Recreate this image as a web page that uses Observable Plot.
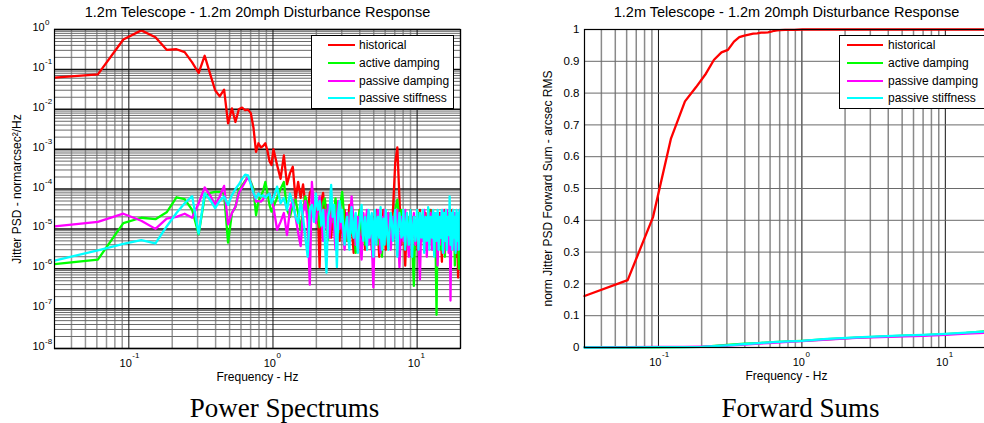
<!DOCTYPE html>
<html><head><meta charset="utf-8">
<script src="https://cdn.jsdelivr.net/npm/d3@7"></script>
<script src="https://cdn.jsdelivr.net/npm/@observablehq/plot@0.6"></script>
<style>
html,body{margin:0;padding:0;background:#fff;}
body{width:984px;height:423px;overflow:hidden;position:relative;font-family:"Liberation Sans",Arial,sans-serif;}
.panel{position:absolute;top:0;}
.panel svg{max-width:none !important;}
.legend{position:absolute;background:#fff;border:1px solid #000;box-sizing:border-box;font-size:12px;color:#000;}
.legend .ln{position:absolute;height:2px;}
.legend .tx{position:absolute;height:18px;line-height:18px;white-space:nowrap;}
</style>
</head><body>
<script>
// ---------------- data ----------------
const titleText = "1.2m Telescope - 1.2m 20mph Disturbance Response";
const seriesNames = ["historical", "active damping", "passive damping", "passive stiffness"];
const seriesColors = ["#ff0000", "#00ff00", "#ff00ff", "#00ffff"];

// PSD frequency samples (Hz)
const psdFreq = [
  0.0305,0.061,0.0916,0.122,0.153,0.183,0.214,0.244,0.275,0.305,
  0.336,0.366,0.397,0.427,0.458,0.488,0.519,0.549,0.580,0.610,
  0.641,0.671,0.702,0.732,0.763,0.793,0.824,0.854,0.885,0.916,
  0.946,0.977,1.007,
  1.068,1.129,1.190,1.251,1.312,1.373,1.434,1.495,1.556,1.617,
  1.678,1.740,1.801,1.862,1.923,1.984,2.045,2.106,2.167,2.228,
  2.289,2.350,2.411,2.472,2.533,2.594,2.655,2.716,2.777,2.838,
  2.899,2.960,
  3.02,3.14,3.27,3.39,3.51,3.63,3.75,3.88,4.00,4.12,
  4.24,4.36,4.49,4.61,4.73,4.85,4.97,5.10,5.22,5.34,
  5.46,5.58,5.71,5.83,5.95,
  6.07,6.32,6.56,6.80,7.05,7.29,7.54,7.78,8.02,8.27,
  8.51,8.76,9.00,9.24,9.49,9.73,9.98,10.22,10.46,10.71,
  10.95,11.20,11.44,11.68,11.93,12.17,12.42,12.66,12.90,13.15,
  13.39,13.64,13.88,14.12,14.37,14.61,14.86,15.10,15.34,15.59,
  15.83,16.08,16.32,16.56,16.81,17.05,17.30,17.54,17.78,18.03,
  18.27,18.52,18.76,19.00,19.25,19.49,19.74,19.98
];

const psdHistorical = [
  6.2e-2,7.5e-2,5.6e-1,9.5e-1,6.4e-1,3.1e-1,3.2e-1,2.7e-1,1.5e-1,8.1e-2,
  2.2e-1,7.8e-2,3.0e-2,2.1e-2,3.1e-2,4.4e-3,1.05e-2,4.8e-3,1.0e-2,1.1e-2,
  9.5e-3,9.8e-3,8e-3,3.5e-3,8.5e-4,1.4e-3,1.1e-3,1.2e-3,1.4e-3,9e-4,
  5e-4,4e-4,1.0e-3,
  4e-4,1.8e-4,7e-4,1.3e-4,2.5e-4,3.6e-4,5.5e-5,1.5e-4,6e-5,1.3e-4,
  4e-5,2.5e-5,8e-5,1e-4,3e-5,1.7e-5,4e-5,1.1e-6,5e-5,8e-5,
  2e-5,4e-5,1.2e-5,3e-5,6e-6,2.5e-5,1e-5,3.5e-5,8e-6,2e-5,
  5e-6,1.5e-5,
  8e-6,3e-5,5e-6,4e-5,1.2e-5,2.5e-6,2e-5,6e-6,3e-5,4e-6,
  1.5e-5,3e-6,2.5e-5,7e-6,1.8e-5,3e-6,2e-5,5e-6,3e-5,9e-6,
  2e-6,2e-5,6e-6,3e-5,1e-5,
  3e-6,2.5e-5,8e-6,3e-5,4.5e-4,1.1e-3,6e-5,4e-6,2.5e-5,1.2e-6,
  2e-5,5e-6,3e-5,8e-6,2e-5,3e-6,1.5e-5,5e-6,3e-5,7e-6,
  2e-5,3e-6,2.5e-5,6e-6,1.8e-5,4e-6,3e-5,9e-6,2e-5,3e-6,
  1.5e-5,6e-7,2e-5,5e-6,2.5e-5,8e-6,1.5e-6,2e-5,6e-6,3e-5,
  4e-6,2e-5,7e-6,2.5e-5,3e-6,1.5e-5,6e-6,3e-5,1e-5,4e-6,
  2e-5,2e-6,1.5e-5,5e-6,6e-7,1.5e-5,4e-6,2e-5
];

const psdActive = [
  1.3e-6,1.7e-6,1.4e-5,1.9e-5,1.75e-5,2.6e-5,6.2e-5,5.6e-5,3e-5,7.3e-6,
  6.5e-5,8e-5,8.5e-5,8.5e-5,7.5e-5,4.5e-6,2.5e-5,3.5e-5,9.5e-5,1.2e-4,
  1.6e-4,2e-4,1.5e-4,1e-4,2.2e-5,5e-5,6.5e-5,9e-5,1.5e-4,8e-5,
  4e-5,2.7e-5,3.6e-5,
  6e-5,1e-4,1.5e-4,3e-5,2e-5,4e-5,5.4e-5,2.5e-5,9.5e-6,3e-5,
  6.5e-5,4e-5,1.5e-5,4e-5,3e-5,1.5e-5,2.5e-5,1.1e-5,3e-5,4.5e-5,
  5.8e-5,2e-5,5.2e-6,2e-5,4e-5,1.5e-5,3e-5,5.8e-5,2e-5,8e-6,
  3e-5,5e-5,
  8.5e-5,1.5e-5,5e-6,2.5e-5,8e-6,2e-5,2.5e-6,1.5e-5,3e-5,7e-6,
  2e-5,4e-6,1.5e-5,2.5e-5,6e-6,1.8e-5,3e-6,2e-5,8e-6,2.5e-5,
  4e-6,1.5e-5,2e-6,2e-5,7e-6,
  2e-5,5e-6,2.5e-5,1e-5,3e-5,5.4e-5,1.5e-5,3e-5,6e-6,2e-5,
  4e-6,1.5e-5,2.5e-5,5e-6,3.7e-7,1.5e-5,8e-6,2.5e-5,4e-6,2e-5,
  7e-6,1.5e-5,3e-6,2e-5,1e-5,3e-5,5e-6,1.8e-5,3e-6,2e-5,
  8e-6,7e-8,2e-5,5e-6,1.5e-5,3e-6,2.5e-5,8e-6,1.5e-5,2e-6,
  2e-5,6e-6,2.5e-5,1e-5,3e-6,2e-5,7e-6,1.5e-5,4e-6,2.5e-5,
  1.2e-6,1.5e-5,5e-6,2e-5,8e-6,1e-6,2e-5,6e-6
];

const psdPassiveDamping = [
  1.15e-5,1.5e-5,2.4e-5,1.6e-5,1.0e-5,1.8e-5,2.0e-5,2.4e-5,1.9e-5,4.4e-5,
  1.1e-4,7e-5,4e-5,6.5e-5,1.2e-4,1.3e-5,2.5e-5,3.6e-5,8e-5,1.1e-4,
  1.5e-4,2e-4,1.4e-4,8e-5,4.8e-5,5e-5,4.8e-5,5.5e-5,6.5e-5,7e-5,
  7.7e-5,5e-5,3.6e-5,
  9.5e-6,1.5e-5,2.5e-5,7e-6,3e-5,5.4e-5,2e-5,8e-6,3.7e-6,2.7e-5,
  5e-5,1.5e-5,4e-7,1.5e-4,3e-5,1.4e-5,3e-5,6.5e-5,2e-5,5e-6,
  3e-5,1e-5,4e-5,6e-6,2e-5,4e-5,1e-5,3e-6,2e-5,5e-5,
  1e-5,2.5e-5,
  1.2e-5,3e-6,2.5e-5,8e-6,6.5e-5,1.5e-5,4e-6,2e-5,6e-6,1.7e-6,
  2.5e-5,9e-6,3e-5,4e-6,1.5e-5,5e-6,3.4e-7,2e-5,6e-6,3e-5,
  1e-5,2.5e-6,2e-5,5e-6,3e-5,
  8e-6,2.5e-5,3e-6,2e-5,6e-6,3e-5,1.1e-6,2e-5,5e-6,3e-5,
  8e-6,2e-6,2e-5,6e-6,2.5e-5,4e-6,1.8e-5,7e-6,5.4e-7,2e-5,
  5e-6,3e-5,8e-6,2e-6,2e-5,6e-6,2.5e-5,3e-6,1.5e-5,2.5e-5,
  5e-6,2e-5,1.2e-6,1.5e-5,4e-6,2.5e-5,7e-6,3e-5,2.5e-6,1.5e-5,
  6e-6,3e-5,1e-5,2.5e-6,2e-5,1.6e-7,2.5e-5,6e-6,2e-5,3e-6,
  2.5e-5,8e-6,2e-5,3e-6,1.5e-5,5e-6,3e-5,1e-5
];

const psdPassiveStiffness = [
  1.6e-6,2.9e-6,4.2e-6,5.2e-6,4.3e-6,1.15e-5,2.5e-5,4.4e-5,6.6e-5,7.6e-6,
  7.7e-5,5.4e-5,3.3e-5,5e-5,6.5e-5,4e-5,7e-5,1e-4,1.3e-4,1.8e-4,
  2.3e-4,2.2e-4,1.3e-4,8e-5,5.8e-5,7.7e-5,6.5e-5,7e-5,6e-5,7e-5,
  7.7e-5,4.4e-5,6e-5,
  1.15e-4,4.4e-5,6e-5,3e-5,7.7e-5,4.4e-5,2e-5,1.4e-5,5e-5,2e-5,
  6e-6,2e-6,3e-5,4e-5,1.5e-5,7.7e-5,3e-5,5e-5,1.2e-5,3e-5,
  5e-6,8e-7,2e-5,3e-5,1.26e-4,2e-5,4e-5,1e-5,1.1e-6,2.5e-5,
  5e-5,1.5e-5,
  3e-5,4e-6,2e-5,3e-6,3.5e-5,6e-6,2.5e-5,2.5e-6,1.5e-5,4e-5,
  5e-6,2e-5,3e-6,3e-5,8e-6,2.5e-5,2e-6,3e-5,4e-6,2e-5,
  6e-6,3.5e-5,3e-6,1.8e-5,4e-6,
  3e-5,3e-6,2.5e-5,5e-6,3e-5,2e-6,2.5e-5,6e-6,3e-5,3e-6,
  2.5e-5,4e-6,3e-5,2e-6,2e-5,5e-6,3e-5,3e-6,2.5e-5,6e-6,
  3e-5,2.5e-6,2e-5,5e-6,3.5e-5,3e-6,2e-5,6e-6,3e-5,2e-6,
  2.5e-5,5e-6,3e-5,3e-6,2e-5,6e-6,3e-5,2.5e-6,2.5e-5,5e-6,
  3e-5,3e-6,2e-5,7e-6,6.5e-5,4e-6,2.5e-5,3e-6,3e-5,6e-6,
  2e-5,2.5e-6,3e-5,5e-6,2.5e-5,3e-6,3e-5,8e-6
];

// extra (in-between) samples of the dense passive-stiffness band, 3-20 Hz
const psdStiffnessExtraFreq = [
  3.08,3.20,3.33,3.45,3.57,3.69,3.81,3.94,4.06,4.18,
  4.30,4.42,4.55,4.67,4.79,4.91,5.03,5.16,5.28,5.40,
  5.52,5.64,5.77,5.89,
  6.01,6.19,6.44,6.68,6.92,7.17,7.41,7.66,7.90,8.14,
  8.39,8.63,8.88,9.12,9.36,9.61,9.85,10.10,10.34,10.58,
  10.83,11.07,11.32,11.56,11.80,12.05,12.29,12.54,12.78,13.02,
  13.27,13.51,13.76,14.00,14.24,14.49,14.73,14.98,15.22,15.46,
  15.71,15.95,16.20,16.44,16.68,16.93,17.17,17.42,17.66,17.90,
  18.15,18.39,18.64,18.88,19.12,19.37,19.61,19.86
];
const psdStiffnessExtra = [
  1e-5,1.2e-5,6e-6,1.5e-5,8e-6,1.8e-5,5e-6,9e-6,2.5e-5,1e-5,
  1.2e-5,7e-6,1.5e-5,6e-6,2e-5,5e-6,1.2e-5,8e-6,1.5e-5,9e-6,
  2e-5,5e-6,1e-5,1.4e-5,
  1.2e-5,8e-6,1e-5,1.5e-5,9e-6,6e-6,1.2e-5,1.5e-5,7e-6,1e-5,
  1.4e-5,8e-6,1.2e-5,6e-6,1e-5,1.5e-5,9e-6,1.2e-5,7e-6,1.5e-5,
  1e-5,8e-6,1.3e-5,1.6e-5,7e-6,1e-5,1.4e-5,9e-6,1.2e-5,6e-6,
  1.5e-5,1e-5,8e-6,1.3e-5,1.1e-5,7e-6,1.5e-5,9e-6,1.2e-5,8e-6,
  1.4e-5,1e-5,1.8e-5,1.5e-5,7e-6,1.2e-5,9e-6,1.4e-5,6e-6,1e-5,
  1.5e-5,8e-6,1.2e-5,1e-5,7e-6,1.3e-5,9e-6,1.5e-5
];

// Forward sums
const sumFreqHistorical = [0.0305,0.061,0.0916,0.122,0.153,0.183,0.214,0.244,0.275,0.305,
  0.336,0.366,0.397,0.427,0.458,0.488,0.519,0.549,0.580,0.610,0.641,0.671,0.702,0.763,
  0.824,0.885,1.007,2,5,10,20];
const sumHistorical = [0.162,0.212,0.41,0.656,0.774,0.819,0.861,0.905,0.928,0.936,
  0.962,0.976,0.981,0.984,0.987,0.988,0.990,0.990,0.991,0.993,0.996,0.997,0.998,0.999,
  0.999,0.999,1,1,1,1,1];
const sumFreq = [0.0305,0.061,0.1,0.15,0.2,0.3,0.4,0.5,0.63,0.8,1.0,1.5,2.4,3.5,5.2,7,10,14,20];
const sumActive = [0,0,0.0005,0.001,0.002,0.008,0.012,0.014,0.017,0.019,0.021,0.026,0.031,0.034,0.037,0.039,0.042,0.046,0.052];
const sumPassiveDamping = [0.0005,0.001,0.002,0.002,0.003,0.006,0.009,0.012,0.015,0.018,0.02,0.025,0.030,0.033,0.035,0.037,0.040,0.044,0.047];
const sumPassiveStiffness = [0,0.0005,0.001,0.001,0.002,0.007,0.011,0.014,0.017,0.019,0.021,0.027,0.032,0.035,0.038,0.040,0.043,0.047,0.051];

// Axis ticks
const xTicks = [0.1, 1, 10];
const xTickExps = ["-1", "0", "1"];
const psdYTicks = [1, 1e-1, 1e-2, 1e-3, 1e-4, 1e-5, 1e-6, 1e-7, 1e-8];
const psdYTickExps = ["0", "-1", "-2", "-3", "-4", "-5", "-6", "-7", "-8"];
const sumYTicks = [0, 0.1, 0.2, 0.3, 0.4, 0.5, 0.6, 0.7, 0.8, 0.9, 1];
const sumYTickLabels = ["0", "0.1", "0.2", "0.3", "0.4", "0.5", "0.6", "0.7", "0.8", "0.9", "1"];

const psdLabelX = "Frequency - Hz";
const psdLabelY = "Jitter PSD - normarcsec\u00B2/Hz";
const sumLabelY = "norm Jitter PSD Forward Sum - arcsec RMS";
const captionLeft = "Power Spectrums";
const captionRight = "Forward Sums";

// ---------------- build ----------------
const SANS = "Liberation Sans, Arial, Helvetica, sans-serif";
const SERIF = "Liberation Serif, Times New Roman, serif";
const xDomain = [0.0305, 20];

const psdValues = [psdHistorical, psdActive, psdPassiveDamping, psdPassiveStiffness];
const psdRows = seriesNames.flatMap((name, s) => {
  const rows = psdValues[s].slice(0, psdFreq.length).map((v, i) => ({f: psdFreq[i], v, name}));
  if (s === 3) {
    psdStiffnessExtra.forEach((v, i) => rows.push({f: psdStiffnessExtraFreq[i], v, name}));
    rows.sort((a, b) => a.f - b.f);
  }
  return rows;
});
const sumRows = [
  ...sumHistorical.map((v, i) => ({f: sumFreqHistorical[i], v, name: seriesNames[0]})),
  ...sumActive.map((v, i) => ({f: sumFreq[i], v, name: seriesNames[1]})),
  ...sumPassiveDamping.map((v, i) => ({f: sumFreq[i], v, name: seriesNames[2]})),
  ...sumPassiveStiffness.map((v, i) => ({f: sumFreq[i], v, name: seriesNames[3]}))
];

const xAll = d3.scaleLog().domain(xDomain).ticks();
const isDecade = d => Math.abs(Math.log10(d) - Math.round(Math.log10(d))) < 1e-9;
const xMinor = xAll.filter(d => !isDecade(d));
const xMajor = xAll.filter(isDecade);
const yAll = d3.scaleLog().domain([1e-8, 1]).ticks();
const yMinor = yAll.filter(d => !isDecade(d));
const yMajor = yAll.filter(isDecade);

function xTickMarks() {
  return [
    Plot.text(xTicks, {x: d => d, frameAnchor: "bottom", text: () => "10", textAnchor: "end",
      lineAnchor: "bottom", dx: 3, dy: 18, fontSize: 11, fontFamily: SANS, fill: "#000"}),
    Plot.text(xTicks, {x: d => d, frameAnchor: "bottom", text: (d, i) => xTickExps[i], textAnchor: "start",
      lineAnchor: "bottom", dx: 3.5, dy: 9, fontSize: 8, fontFamily: SANS, fill: "#000"})
  ];
}
function titleMark() {
  return Plot.text([titleText], {frameAnchor: "top", text: d => d, textAnchor: "middle", lineAnchor: "middle",
    dy: -17, fontSize: 14.5, fontFamily: SANS, fill: "#000"});
}
function xLabelMark() {
  return Plot.text([psdLabelX], {frameAnchor: "bottom", text: d => d, textAnchor: "middle", lineAnchor: "middle",
    dy: 29, fontSize: 12, fontFamily: SANS, fill: "#000"});
}

const psdChart = Plot.plot({
  width: 490, height: 423,
  marginLeft: 54, marginRight: 30, marginTop: 29, marginBottom: 75,
  x: {type: "log", domain: xDomain, axis: null},
  y: {type: "log", domain: [1e-8, 1], axis: null},
  color: {domain: seriesNames, range: seriesColors},
  style: {fontFamily: SANS, background: "transparent", overflow: "visible", maxWidth: "none"},
  marks: [
    Plot.ruleX(xMinor, {stroke: "#9a9a9a", strokeWidth: 1.5}),
    Plot.ruleY(yMinor, {stroke: "#6a6a6a", strokeWidth: 1}),
    Plot.ruleX(xMajor, {stroke: "#111", strokeWidth: 1}),
    Plot.ruleY(yMajor, {stroke: "#111", strokeWidth: 1.5}),
    Plot.line(psdRows, {x: "f", y: "v", z: "name", stroke: "name", strokeWidth: 2.3, clip: true}),
    Plot.frame({stroke: "#000", strokeWidth: 1.2}),
    ...xTickMarks(),
    Plot.text(psdYTicks, {y: d => d, frameAnchor: "left", text: () => "10", textAnchor: "start",
      lineAnchor: "bottom", dx: -22, dy: 1.5, fontSize: 11, fontFamily: SANS, fill: "#000"}),
    Plot.text(psdYTicks, {y: d => d, frameAnchor: "left", text: (d, i) => psdYTickExps[i], textAnchor: "start",
      lineAnchor: "bottom", dx: -9.5, dy: -5, fontSize: 8, fontFamily: SANS, fill: "#000"}),
    titleMark(),
    xLabelMark(),
    Plot.text([psdLabelY], {frameAnchor: "left", text: d => d, rotate: -90, textAnchor: "middle", lineAnchor: "middle",
      dx: -37, fontSize: 12, fontFamily: SANS, fill: "#000"}),
    Plot.text([captionLeft], {frameAnchor: "bottom", text: d => d, textAnchor: "middle", lineAnchor: "bottom",
      dx: 27, dy: 68, fontSize: 27, fontFamily: SERIF, fill: "#000"})
  ]
});

const sumChart = Plot.plot({
  width: 510, height: 423,
  marginLeft: 94, marginRight: 12, marginTop: 29, marginBottom: 76,
  x: {type: "log", domain: xDomain, axis: null},
  y: {type: "linear", domain: [0, 1], axis: null},
  color: {domain: seriesNames, range: seriesColors},
  style: {fontFamily: SANS, background: "transparent", overflow: "visible", maxWidth: "none"},
  marks: [
    Plot.ruleX(xMinor, {stroke: "#8a8a8a", strokeWidth: 1.5}),
    Plot.ruleX(xMajor, {stroke: "#111", strokeWidth: 1}),
    Plot.ruleY(sumYTicks, {stroke: "#6a6a6a", strokeWidth: 1}),
    Plot.line(sumRows, {x: "f", y: "v", z: "name", stroke: "name", strokeWidth: 2.3}),
    Plot.frame({stroke: "#000", strokeWidth: 1.2}),
    ...xTickMarks(),
    Plot.text(sumYTicks, {y: d => d, frameAnchor: "left", text: (d, i) => sumYTickLabels[i], textAnchor: "end",
      lineAnchor: "middle", dx: -5, fontSize: 11.5, fontFamily: SANS, fill: "#000"}),
    titleMark(),
    xLabelMark(),
    Plot.text([sumLabelY], {frameAnchor: "left", text: d => d, rotate: -90, textAnchor: "middle", lineAnchor: "middle",
      dx: -36, fontSize: 12, fontFamily: SANS, fill: "#000"}),
    Plot.text([captionRight], {frameAnchor: "bottom", text: d => d, textAnchor: "middle", lineAnchor: "bottom",
      dx: 14, dy: 69, fontSize: 27, fontFamily: SERIF, fill: "#000"})
  ]
});

function place(node, left, width) {
  const wrap = document.createElement("div");
  wrap.className = "panel";
  wrap.style.left = left + "px";
  wrap.style.width = width + "px";
  wrap.appendChild(node);
  document.body.appendChild(wrap);
}
place(psdChart, 0, 490);
place(sumChart, 490, 510);

function legend(box, lineX0, lineX1, textX) {
  const div = document.createElement("div");
  div.className = "legend";
  Object.assign(div.style, {left: box[0] + "px", top: box[1] + "px", width: box[2] + "px", height: box[3] + "px"});
  const rowY = [9.3, 27.3, 44.7, 62.3];
  seriesNames.forEach((name, i) => {
    const ln = document.createElement("div");
    ln.className = "ln";
    Object.assign(ln.style, {left: lineX0 + "px", width: (lineX1 - lineX0) + "px", top: (rowY[i] - 1) + "px", background: seriesColors[i]});
    const tx = document.createElement("div");
    tx.className = "tx";
    Object.assign(tx.style, {left: textX + "px", top: (rowY[i] - 9) + "px"});
    tx.textContent = name;
    div.appendChild(ln); div.appendChild(tx);
  });
  document.body.appendChild(div);
}
legend([311, 35, 143, 74], 16, 43, 47);
legend([839, 35, 146, 74], 7, 43, 48);
</script>
</body></html>
